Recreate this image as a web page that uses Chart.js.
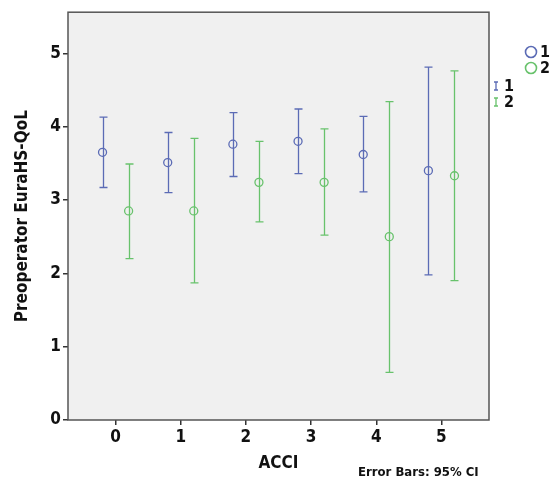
<!DOCTYPE html>
<html>
<head>
<meta charset="utf-8">
<script src="https://cdn.jsdelivr.net/npm/chart.js@4/dist/chart.umd.min.js"></script>
<style>
  html, body { margin: 0; padding: 0; background: #fff; }
  #wrap { width: 553px; height: 483px; position: relative; }
</style>
</head>
<body>
<div id="wrap"><canvas id="c" width="553" height="483"></canvas></div>
<script>
// SPSS-style error bar plot: mean with 95% CI by ACCI, two groups.
const ACCI = [0, 1, 2, 3, 4, 5];
const Y_TICKS = [0, 1, 2, 3, 4, 5];
const GROUPS = ['1', '2'];

const MEAN_1 = [3.65, 3.51, 3.76, 3.80, 3.62, 3.40];
const LOW_1  = [3.17, 3.10, 3.32, 3.36, 3.11, 1.98];
const HIGH_1 = [4.13, 3.92, 4.19, 4.24, 4.14, 4.81];

const MEAN_2 = [2.85, 2.85, 3.24, 3.24, 2.50, 3.33];
const LOW_2  = [2.20, 1.87, 2.70, 2.52, 0.65, 1.90];
const HIGH_2 = [3.49, 3.84, 3.80, 3.97, 4.34, 4.76];

const BLUE = '#5b6bb5';
const GREEN = '#68c26c';
const FONT = "'Liberation Sans Narrow', 'Arial Narrow', 'DejaVu Sans Condensed', sans-serif";
const DODGE = 0.2;

const series = [
  { label: GROUPS[0], color: BLUE, mean: MEAN_1, low: LOW_1, high: HIGH_1, off: -DODGE },
  { label: GROUPS[1], color: GREEN, mean: MEAN_2, low: LOW_2, high: HIGH_2, off: DODGE },
];

// ── Plot frame + background ───────────────────────────────────────────────────
const frame = {
  id: 'frame',
  beforeDatasetsDraw(chart) {
    const { ctx, chartArea: a } = chart;
    ctx.save();
    ctx.fillStyle = '#f0f0f0';
    ctx.fillRect(a.left, a.top, a.right - a.left, a.bottom - a.top);
    ctx.strokeStyle = '#555';
    ctx.lineWidth = 1.5;
    ctx.strokeRect(a.left, a.top, a.right - a.left, a.bottom - a.top);
    ctx.restore();
  },
};

// ── Error bars (95% CI) ──────────────────────────────────────────────────────
const errorBars = {
  id: 'errorBars',
  afterDatasetsDraw(chart) {
    const { ctx, scales: { x, y } } = chart;
    ctx.save();
    ctx.lineWidth = 1.3;
    for (const s of series) {
      ctx.strokeStyle = s.color;
      ACCI.forEach((c, i) => {
        const px = Math.round(x.getPixelForValue(c + s.off)) + 0.5;
        const y0 = y.getPixelForValue(s.low[i]);
        const y1 = y.getPixelForValue(s.high[i]);
        ctx.beginPath();
        ctx.moveTo(px, y0); ctx.lineTo(px, y1);
        ctx.moveTo(px - 4, y0); ctx.lineTo(px + 4, y0);
        ctx.moveTo(px - 4, y1); ctx.lineTo(px + 4, y1);
        ctx.stroke();
      });
    }
    ctx.restore();
  },
};

// ── Legends + footnote ───────────────────────────────────────────────────────
const extras = {
  id: 'extras',
  afterDraw(chart) {
    const { ctx } = chart;
    ctx.save();
    ctx.textBaseline = 'middle';
    ctx.textAlign = 'left';
    ctx.font = `bold 16px ${FONT}`;
    series.forEach((s, i) => {
      // marker legend
      const cy = 52 + i * 16;
      ctx.strokeStyle = s.color;
      ctx.lineWidth = 1.6;
      ctx.beginPath();
      ctx.arc(531, cy, 5.5, 0, Math.PI * 2);
      ctx.stroke();
      ctx.fillStyle = '#111';
      ctx.fillText(s.label, 540, cy + 1);
      // error bar legend
      const ey = 86 + i * 16;
      ctx.lineWidth = 1.3;
      ctx.beginPath();
      ctx.moveTo(496, ey - 4); ctx.lineTo(496, ey + 4);
      ctx.moveTo(494, ey - 4); ctx.lineTo(498, ey - 4);
      ctx.moveTo(494, ey + 4); ctx.lineTo(498, ey + 4);
      ctx.stroke();
      ctx.fillText(s.label, 504, ey + 1);
    });
    ctx.font = `bold 13px ${FONT}`;
    ctx.fillText('Error Bars: 95% CI', 358, 473);
    ctx.restore();
  },
};

new Chart(document.getElementById('c'), {
  type: 'scatter',
  data: {
    datasets: series.map((s) => ({
      label: s.label,
      data: ACCI.map((c, i) => ({ x: c + s.off, y: s.mean[i] })),
      borderColor: s.color,
      backgroundColor: 'rgba(0,0,0,0)',
      pointStyle: 'circle',
      pointRadius: 4,
      pointBorderWidth: 1.3,
    })),
  },
  options: {
    responsive: false,
    animation: false,
    layout: { padding: { top: 6, right: 64, left: 9, bottom: 0 } },
    plugins: { legend: { display: false }, tooltip: { enabled: false } },
    scales: {
      x: {
        type: 'linear',
        min: -0.73,
        max: 5.73,
        afterBuildTicks: (sc) => { sc.ticks = ACCI.map((v) => ({ value: v })); },
        afterFit: (sc) => { sc.height = 63; },
        grid: { drawOnChartArea: false, drawTicks: true, tickLength: 5, color: '#333', lineWidth: 1.5 },
        border: { display: false },
        ticks: { color: '#111', padding: 2, font: { family: FONT, size: 17, weight: 'bold' } },
        title: { display: true, text: 'ACCI', color: '#111', padding: { top: 0, bottom: 9 }, font: { family: FONT, size: 17, weight: 'bold' } },
      },
      y: {
        min: 0,
        max: 5.56,
        afterBuildTicks: (sc) => { sc.ticks = Y_TICKS.map((v) => ({ value: v })); },
        afterFit: (sc) => { sc.width = 59; },
        grid: { drawOnChartArea: false, drawTicks: true, tickLength: 5, color: '#333', lineWidth: 1.5 },
        border: { display: false },
        ticks: { color: '#111', padding: 2, font: { family: FONT, size: 17, weight: 'bold' } },
        title: { display: true, text: 'Preoperator EuraHS-QoL', color: '#111', padding: { top: 3, bottom: 4 }, font: { family: FONT, size: 17, weight: 'bold' } },
      },
    },
  },
  plugins: [frame, errorBars, extras],
});
</script>
</body>
</html>
